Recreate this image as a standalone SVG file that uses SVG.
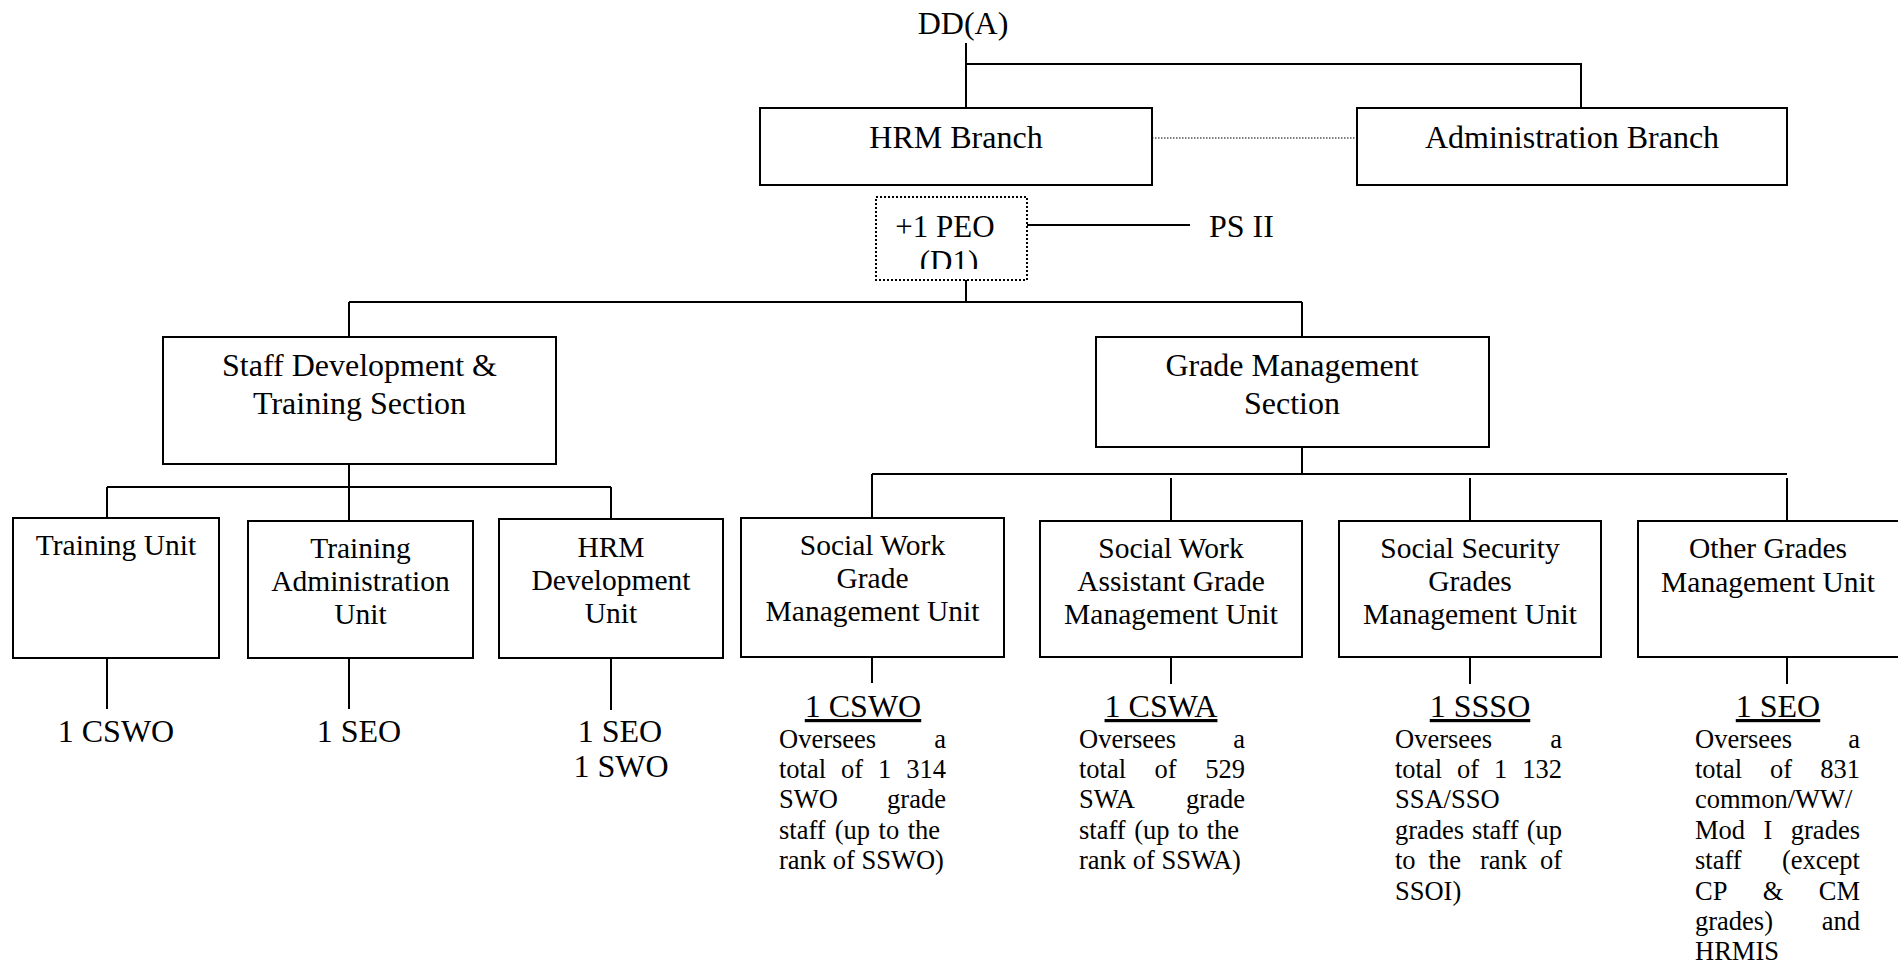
<svg xmlns="http://www.w3.org/2000/svg" width="1898" height="965" viewBox="0 0 1898 965">
<style>
.box{fill:#fff;stroke:#000;stroke-width:2}
.dbox{fill:#fff;stroke:#000;stroke-width:2;stroke-dasharray:2 2}
.ln{stroke:#000;stroke-width:2;fill:none}
.dot{stroke:#555;stroke-width:1.5;stroke-dasharray:1.5 1.5;fill:none}
text{font-family:"Liberation Serif","Times New Roman",serif;fill:#000}
.t{font-size:32px}
.s{font-size:29.5px}
.c{text-anchor:middle}
.u{text-decoration:underline}
.p{font-size:26.5px}
</style>
<defs>
<clipPath id="peoClip"><rect x="876" y="197" width="151" height="72"/></clipPath>
</defs>
<rect width="1898" height="965" fill="#fff"/>
<g id="connectors">
<path class="ln" d="M966 43V108M966 64H1581V108M1021 225H1190M966 280V302M349 302H1302M349 302V337M1302 302V337"/>
<path class="dot" d="M1152 138H1357"/>
<path class="ln" d="M349 464V521M107 487H611M107 487V518M611 487V519"/>
<path class="ln" d="M1302 447V474M872 474H1787M872 474V518M1171 478V521M1470 478V521M1787 478V521"/>
<path class="ln" d="M107 658V709M349 658V709M611 658V710M872 657V683M1171 657V684M1470 657V684M1787 657V684"/>
</g>
<g id="dda"><text class="t c" x="963" y="34">DD(A)</text></g>
<g id="hrm-branch"><rect class="box" x="760" y="108" width="392" height="77"/><text class="t c" x="956" y="148">HRM Branch</text></g>
<g id="admin-branch"><rect class="box" x="1357" y="108" width="430" height="77"/><text class="t c" x="1572" y="148">Administration Branch</text></g>
<g id="peo"><rect class="dbox" x="876" y="197" width="151" height="83"/><text class="t c" x="945" y="237" style="font-size:31px">+1 PEO</text><text class="t c" x="949" y="272" style="font-size:31px" clip-path="url(#peoClip)">(D1)</text></g>
<g id="ps2"><text class="t" x="1209" y="237">PS II</text></g>
<g id="staff-dev"><rect class="box" x="163" y="337" width="393" height="127"/><text class="t c" x="359.5" y="376">Staff Development &amp;</text><text class="t c" x="359.5" y="414">Training Section</text></g>
<g id="grade-mgmt"><rect class="box" x="1096" y="337" width="393" height="110"/><text class="t c" x="1292" y="376">Grade Management</text><text class="t c" x="1292" y="414">Section</text></g>
<g id="training-unit"><rect class="box" x="13" y="518" width="206" height="140"/><text class="s c" x="116" y="555">Training Unit</text></g>
<g id="training-admin"><rect class="box" x="248" y="521" width="225" height="137"/><text class="s c" x="360.5" y="558">Training</text><text class="s c" x="360.5" y="591">Administration</text><text class="s c" x="360.5" y="624">Unit</text></g>
<g id="hrm-dev"><rect class="box" x="499" y="519" width="224" height="139"/><text class="s c" x="611" y="557">HRM</text><text class="s c" x="611" y="590">Development</text><text class="s c" x="611" y="623">Unit</text></g>
<g id="sw-grade"><rect class="box" x="741" y="518" width="263" height="139"/><text class="s c" x="872.5" y="555">Social Work</text><text class="s c" x="872.5" y="588">Grade</text><text class="s c" x="872.5" y="621">Management Unit</text></g>
<g id="swa-grade"><rect class="box" x="1040" y="521" width="262" height="136"/><text class="s c" x="1171" y="558">Social Work</text><text class="s c" x="1171" y="591">Assistant Grade</text><text class="s c" x="1171" y="624">Management Unit</text></g>
<g id="ss-grade"><rect class="box" x="1339" y="521" width="262" height="136"/><text class="s c" x="1470" y="558">Social Security</text><text class="s c" x="1470" y="591">Grades</text><text class="s c" x="1470" y="624">Management Unit</text></g>
<g id="other-grade"><rect class="box" x="1638" y="521" width="262" height="136"/><text class="s c" x="1768" y="558">Other Grades</text><text class="s c" x="1768" y="592">Management Unit</text></g>
<g id="tu-staff"><text class="t c" x="116" y="742">1 CSWO</text></g>
<g id="ta-staff"><text class="t c" x="359" y="742">1 SEO</text></g>
<g id="hd-staff"><text class="t c" x="620" y="742">1 SEO</text><text class="t c" x="621" y="777">1 SWO</text></g>
<g id="sw-staff"><text class="t c u" x="863" y="717">1 CSWO</text>
<text class="p"><tspan x="779" y="748">Oversees</tspan><tspan x="934.2" y="748">a</tspan><tspan x="779" y="778">total</tspan><tspan x="841" y="778">of</tspan><tspan x="878" y="778">1</tspan><tspan x="906.3" y="778">314</tspan><tspan x="779" y="808">SWO</tspan><tspan x="887.1" y="808">grade</tspan><tspan x="779" y="839">staff</tspan><tspan x="834.7" y="839">(up</tspan><tspan x="878.6" y="839">to</tspan><tspan x="907.7" y="839">the</tspan><tspan x="779" y="869">rank of SSWO)</tspan></text></g>
<g id="swa-staff"><text class="t c u" x="1161" y="717">1 CSWA</text>
<text class="p"><tspan x="1079" y="748">Oversees</tspan><tspan x="1233.2" y="748">a</tspan><tspan x="1079" y="778">total</tspan><tspan x="1154.6" y="778">of</tspan><tspan x="1205.3" y="778">529</tspan><tspan x="1079" y="808">SWA</tspan><tspan x="1186.1" y="808">grade</tspan><tspan x="1079" y="839">staff</tspan><tspan x="1134.3" y="839">(up</tspan><tspan x="1177.8" y="839">to</tspan><tspan x="1206.7" y="839">the</tspan><tspan x="1079" y="869">rank of SSWA)</tspan></text></g>
<g id="ss-staff"><text class="t c u" x="1480" y="717">1 SSSO</text>
<text class="p"><tspan x="1395" y="748">Oversees</tspan><tspan x="1550.2" y="748">a</tspan><tspan x="1395" y="778">total</tspan><tspan x="1457" y="778">of</tspan><tspan x="1494" y="778">1</tspan><tspan x="1522.3" y="778">132</tspan><tspan x="1395" y="808">SSA/SSO</tspan><tspan x="1395" y="839">grades</tspan><tspan x="1471.9" y="839">staff</tspan><tspan x="1526.7" y="839">(up</tspan><tspan x="1395" y="869">to</tspan><tspan x="1428.6" y="869">the</tspan><tspan x="1479.9" y="869">rank</tspan><tspan x="1539.9" y="869">of</tspan><tspan x="1395" y="900">SSOI)</tspan></text></g>
<g id="other-staff"><text class="t c u" x="1778" y="717">1 SEO</text>
<text class="p"><tspan x="1695" y="748">Oversees</tspan><tspan x="1848.2" y="748">a</tspan><tspan x="1695" y="778">total</tspan><tspan x="1770.1" y="778">of</tspan><tspan x="1820.3" y="778">831</tspan><tspan x="1695" y="808">common/WW/</tspan><tspan x="1695" y="839">Mod</tspan><tspan x="1763.6" y="839">I</tspan><tspan x="1790.8" y="839">grades</tspan><tspan x="1695" y="869">staff</tspan><tspan x="1782" y="869">(except</tspan><tspan x="1695" y="900">CP</tspan><tspan x="1762.8" y="900">&amp;</tspan><tspan x="1818.8" y="900">CM</tspan><tspan x="1695" y="930">grades)</tspan><tspan x="1821.7" y="930">and</tspan><tspan x="1695" y="960">HRMIS</tspan></text></g>
</svg>
